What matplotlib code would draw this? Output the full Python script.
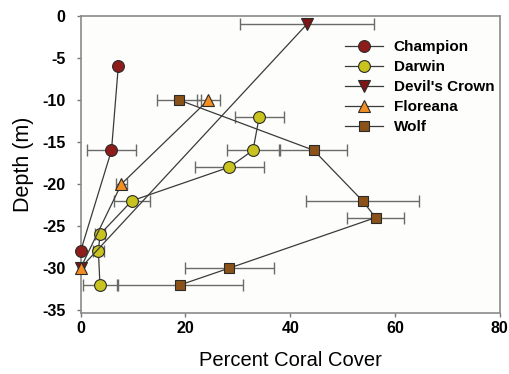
import numpy as np
import matplotlib.pyplot as plt

plt.rcParams['font.family'] = ['Liberation Sans', 'DejaVu Sans']
plt.rcParams['axes.unicode_minus'] = False

# data (cover %, depth m, +/- error)
champion_x = [7.2, 5.9, 0.0]
champion_y = [-6, -16, -28]
champion_err = [0, 4.6, 0]

darwin_x = [34.1, 32.9, 28.4, 9.8, 3.7, 3.4, 3.7]
darwin_y = [-12, -16, -18, -22, -26, -28, -32]
darwin_err = [4.7, 5.0, 6.6, 3.5, 1.0, 1.0, 3.3]

devil_x = [43.2, 0.0]
devil_y = [-1, -30]
devil_err = [12.7, 0]

floreana_x = [24.4, 7.8, 0.0]
floreana_y = [-10, -20, -30]
floreana_err = [2.2, 1.1, 0]

wolf_x = [18.7, 44.5, 53.8, 56.3, 28.4, 19.0]
wolf_y = [-10, -16, -22, -24, -30, -32]
wolf_err = [4.2, 6.4, 10.8, 5.5, 8.5, 11.9]

sites = [
    ('Champion', champion_x, champion_y, champion_err, 'o', '#8e1c1a', 8.5),
    ('Darwin', darwin_x, darwin_y, darwin_err, 'o', '#c9c31f', 8.5),
    ("Devil's Crown", devil_x, devil_y, devil_err, 'v', '#7d1514', 8.5),
    ('Floreana', floreana_x, floreana_y, floreana_err, '^', '#f58e20', 8.5),
    ('Wolf', wolf_x, wolf_y, wolf_err, 's', '#8a5219', 7.5),
]

fig = plt.figure(figsize=(5.10, 3.74), dpi=100)
ax = fig.add_axes([0.158, 0.164, 0.822, 0.794])
ax.set_facecolor('#fdfdfb')

for name, x, y, err, mk, col, ms in sites:
    ax.errorbar(x, y, xerr=err, fmt='none', ecolor='#6a6a6a', elinewidth=1.0,
                capsize=4, capthick=1.0, zorder=1)
for name, x, y, err, mk, col, ms in sites:
    ax.plot(x, y, color='#3a3a3a', lw=0.9, marker=mk, markersize=ms,
            markerfacecolor=col, markeredgecolor='#2a2a2a', markeredgewidth=0.8,
            label=name, zorder=3, clip_on=False)

ax.set_xlim(0, 80)
ax.set_ylim(-35.3, 0)
ax.set_xticks([0, 20, 40, 60, 80])
ax.set_yticks([0, -5, -10, -15, -20, -25, -30, -35])
ax.tick_params(direction='out', length=3, width=1, color='#777777',
               labelsize=11.5)
ax.tick_params(axis='x', pad=3)
ax.tick_params(axis='y', pad=8)
for lab in ax.get_xticklabels() + ax.get_yticklabels():
    lab.set_fontweight('bold')
for sp in ax.spines.values():
    sp.set_color('#8a8a8a')
    sp.set_linewidth(1.2)

ax.set_xlabel('Percent Coral Cover', fontsize=14.5, labelpad=11)
ax.set_ylabel('Depth (m)', fontsize=15.5, labelpad=6)

leg = ax.legend(loc='upper right', bbox_to_anchor=(1.02, 0.965), frameon=False,
                prop={'weight': 'bold', 'size': 11}, handlelength=2.5,
                labelspacing=0.4, handletextpad=0.7)

fig.savefig('out.png', dpi=100)
